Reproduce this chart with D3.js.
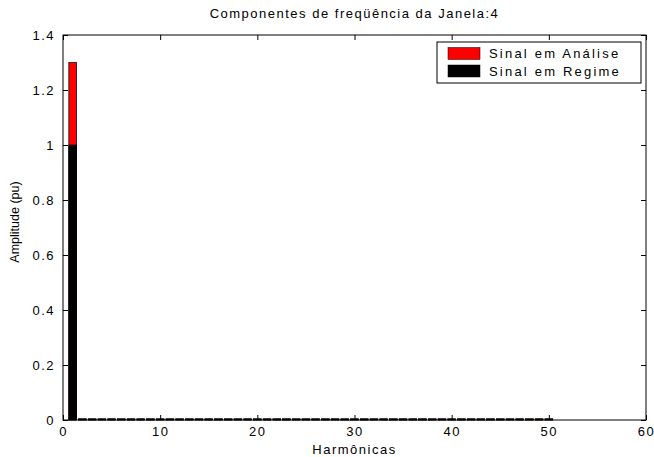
<!DOCTYPE html>
<html>
<head>
<meta charset="UTF-8">
<title>Componentes de frequencia</title>
<script src="https://cdn.jsdelivr.net/npm/d3@7"></script>
<style>
  body { margin: 0; background: #fff; }
  svg text { font-family: "Liberation Sans", Arial, sans-serif; fill: #000; }
</style>
</head>
<body>
<svg id="chart"></svg>
<script>
// harmonic orders 1..50
var harmonicas = [1, 2, 3, 4, 5, 6, 7, 8, 9, 10,
  11, 12, 13, 14, 15, 16, 17, 18, 19, 20,
  21, 22, 23, 24, 25, 26, 27, 28, 29, 30,
  31, 32, 33, 34, 35, 36, 37, 38, 39, 40,
  41, 42, 43, 44, 45, 46, 47, 48, 49, 50];

// "Sinal em Análise" amplitudes (pu)
var analise = [1.30, 0.004, 0.004, 0.004, 0.004, 0.004, 0.004, 0.004, 0.004, 0.004,
  0.004, 0.004, 0.004, 0.004, 0.004, 0.004, 0.004, 0.004, 0.004, 0.004,
  0.004, 0.004, 0.004, 0.004, 0.004, 0.004, 0.004, 0.004, 0.004, 0.004,
  0.004, 0.004, 0.004, 0.004, 0.004, 0.004, 0.004, 0.004, 0.004, 0.004,
  0.004, 0.004, 0.004, 0.004, 0.004, 0.004, 0.004, 0.004, 0.004, 0.004];

// "Sinal em Regime" amplitudes (pu)
var regime = [1.00, 0.004, 0.004, 0.004, 0.004, 0.004, 0.004, 0.004, 0.004, 0.004,
  0.004, 0.004, 0.004, 0.004, 0.004, 0.004, 0.004, 0.004, 0.004, 0.004,
  0.004, 0.004, 0.004, 0.004, 0.004, 0.004, 0.004, 0.004, 0.004, 0.004,
  0.004, 0.004, 0.004, 0.004, 0.004, 0.004, 0.004, 0.004, 0.004, 0.004,
  0.004, 0.004, 0.004, 0.004, 0.004, 0.004, 0.004, 0.004, 0.004, 0.004];

var xTicks = [0, 10, 20, 30, 40, 50, 60];
var yTicks = [0, 0.2, 0.4, 0.6, 0.8, 1, 1.2, 1.4];
var legendNames = ["Sinal em Análise", "Sinal em Regime"];
var legendColors = ["#ff0000", "#000000"];

var svgWidth = 654, svgHeight = 457;
var margin = { top: 35, right: 8, bottom: 37, left: 63 };
var width = svgWidth - margin.left - margin.right;
var height = svgHeight - margin.top - margin.bottom;
var spacing = "1.5px";

var svg = d3.select("#chart")
  .attr("width", svgWidth)
  .attr("height", svgHeight);

var g = svg.append("g")
  .attr("transform", "translate(" + margin.left + "," + margin.top + ")");

var x = d3.scaleLinear().domain([0, 60]).range([0, width]);
var y = d3.scaleLinear().domain([0, 1.4]).range([height, 0]);
var barW = 0.8;

function drawBars(values, color, cls) {
  g.selectAll("rect." + cls)
    .data(harmonicas)
    .enter().append("rect")
    .attr("class", cls)
    .attr("x", function (d) { return x(d - barW / 2); })
    .attr("width", x(barW) - x(0))
    .attr("y", function (d, i) { return y(values[i]); })
    .attr("height", function (d, i) { return y(0) - y(values[i]); })
    .attr("fill", color)
    .attr("stroke", "#000")
    .attr("stroke-width", 0.7);
}
drawBars(analise, "#ff0000", "an");
drawBars(regime, "#000000", "rg");

// axes (MATLAB style: inward ticks on all sides)
var tickLen = 5;
g.append("g")
  .attr("transform", "translate(0," + height + ")")
  .call(d3.axisBottom(x).tickValues(xTicks).tickSize(-tickLen).tickPadding(7).tickFormat(d3.format("d")))
  .call(function (a) { a.select(".domain").remove(); });
g.append("g")
  .call(d3.axisTop(x).tickValues(xTicks).tickSize(-tickLen).tickFormat(""))
  .call(function (a) { a.select(".domain").remove(); });
g.append("g")
  .call(d3.axisLeft(y).tickValues(yTicks).tickSize(-tickLen).tickPadding(8).tickFormat(function (d) { return d3.format("")(+d.toFixed(1)); }))
  .call(function (a) { a.select(".domain").remove(); });
g.append("g")
  .attr("transform", "translate(" + width + ",0)")
  .call(d3.axisRight(y).tickValues(yTicks).tickSize(-tickLen).tickFormat(""))
  .call(function (a) { a.select(".domain").remove(); });

g.selectAll(".tick line").attr("stroke", "#000");
g.selectAll(".tick text")
  .attr("font-size", 13)
  .style("letter-spacing", spacing)
  .attr("fill", "#000");

g.append("rect")
  .attr("width", width).attr("height", height)
  .attr("fill", "none").attr("stroke", "#000").attr("stroke-width", 1);

// title and labels
svg.append("text")
  .attr("x", margin.left + width / 2).attr("y", 18)
  .attr("text-anchor", "middle")
  .attr("font-size", 13)
  .style("letter-spacing", spacing)
  .text("Componentes de freqüência da Janela:4");

svg.append("text")
  .attr("x", margin.left + width / 2).attr("y", 454)
  .attr("text-anchor", "middle")
  .attr("font-size", 13)
  .style("letter-spacing", spacing)
  .text("Harmônicas");

svg.append("text")
  .attr("transform", "translate(19,222) rotate(-90)")
  .attr("text-anchor", "middle")
  .attr("font-size", 12.5)
  .text("Amplitude (pu)");

// legend
var lg = svg.append("g").attr("transform", "translate(437,42)");
lg.append("rect")
  .attr("width", 204).attr("height", 41)
  .attr("fill", "#fff").attr("stroke", "#000").attr("stroke-width", 1);
legendNames.forEach(function (name, i) {
  lg.append("rect")
    .attr("x", 11).attr("y", 5.5 + i * 17.5)
    .attr("width", 32).attr("height", 12)
    .attr("fill", legendColors[i])
    .attr("stroke", "#000").attr("stroke-width", 0.5);
  lg.append("text")
    .attr("x", 52).attr("y", 16 + i * 17.5)
    .attr("font-size", 13)
    .style("letter-spacing", "2.2px")
    .text(name);
});
</script>
</body>
</html>
